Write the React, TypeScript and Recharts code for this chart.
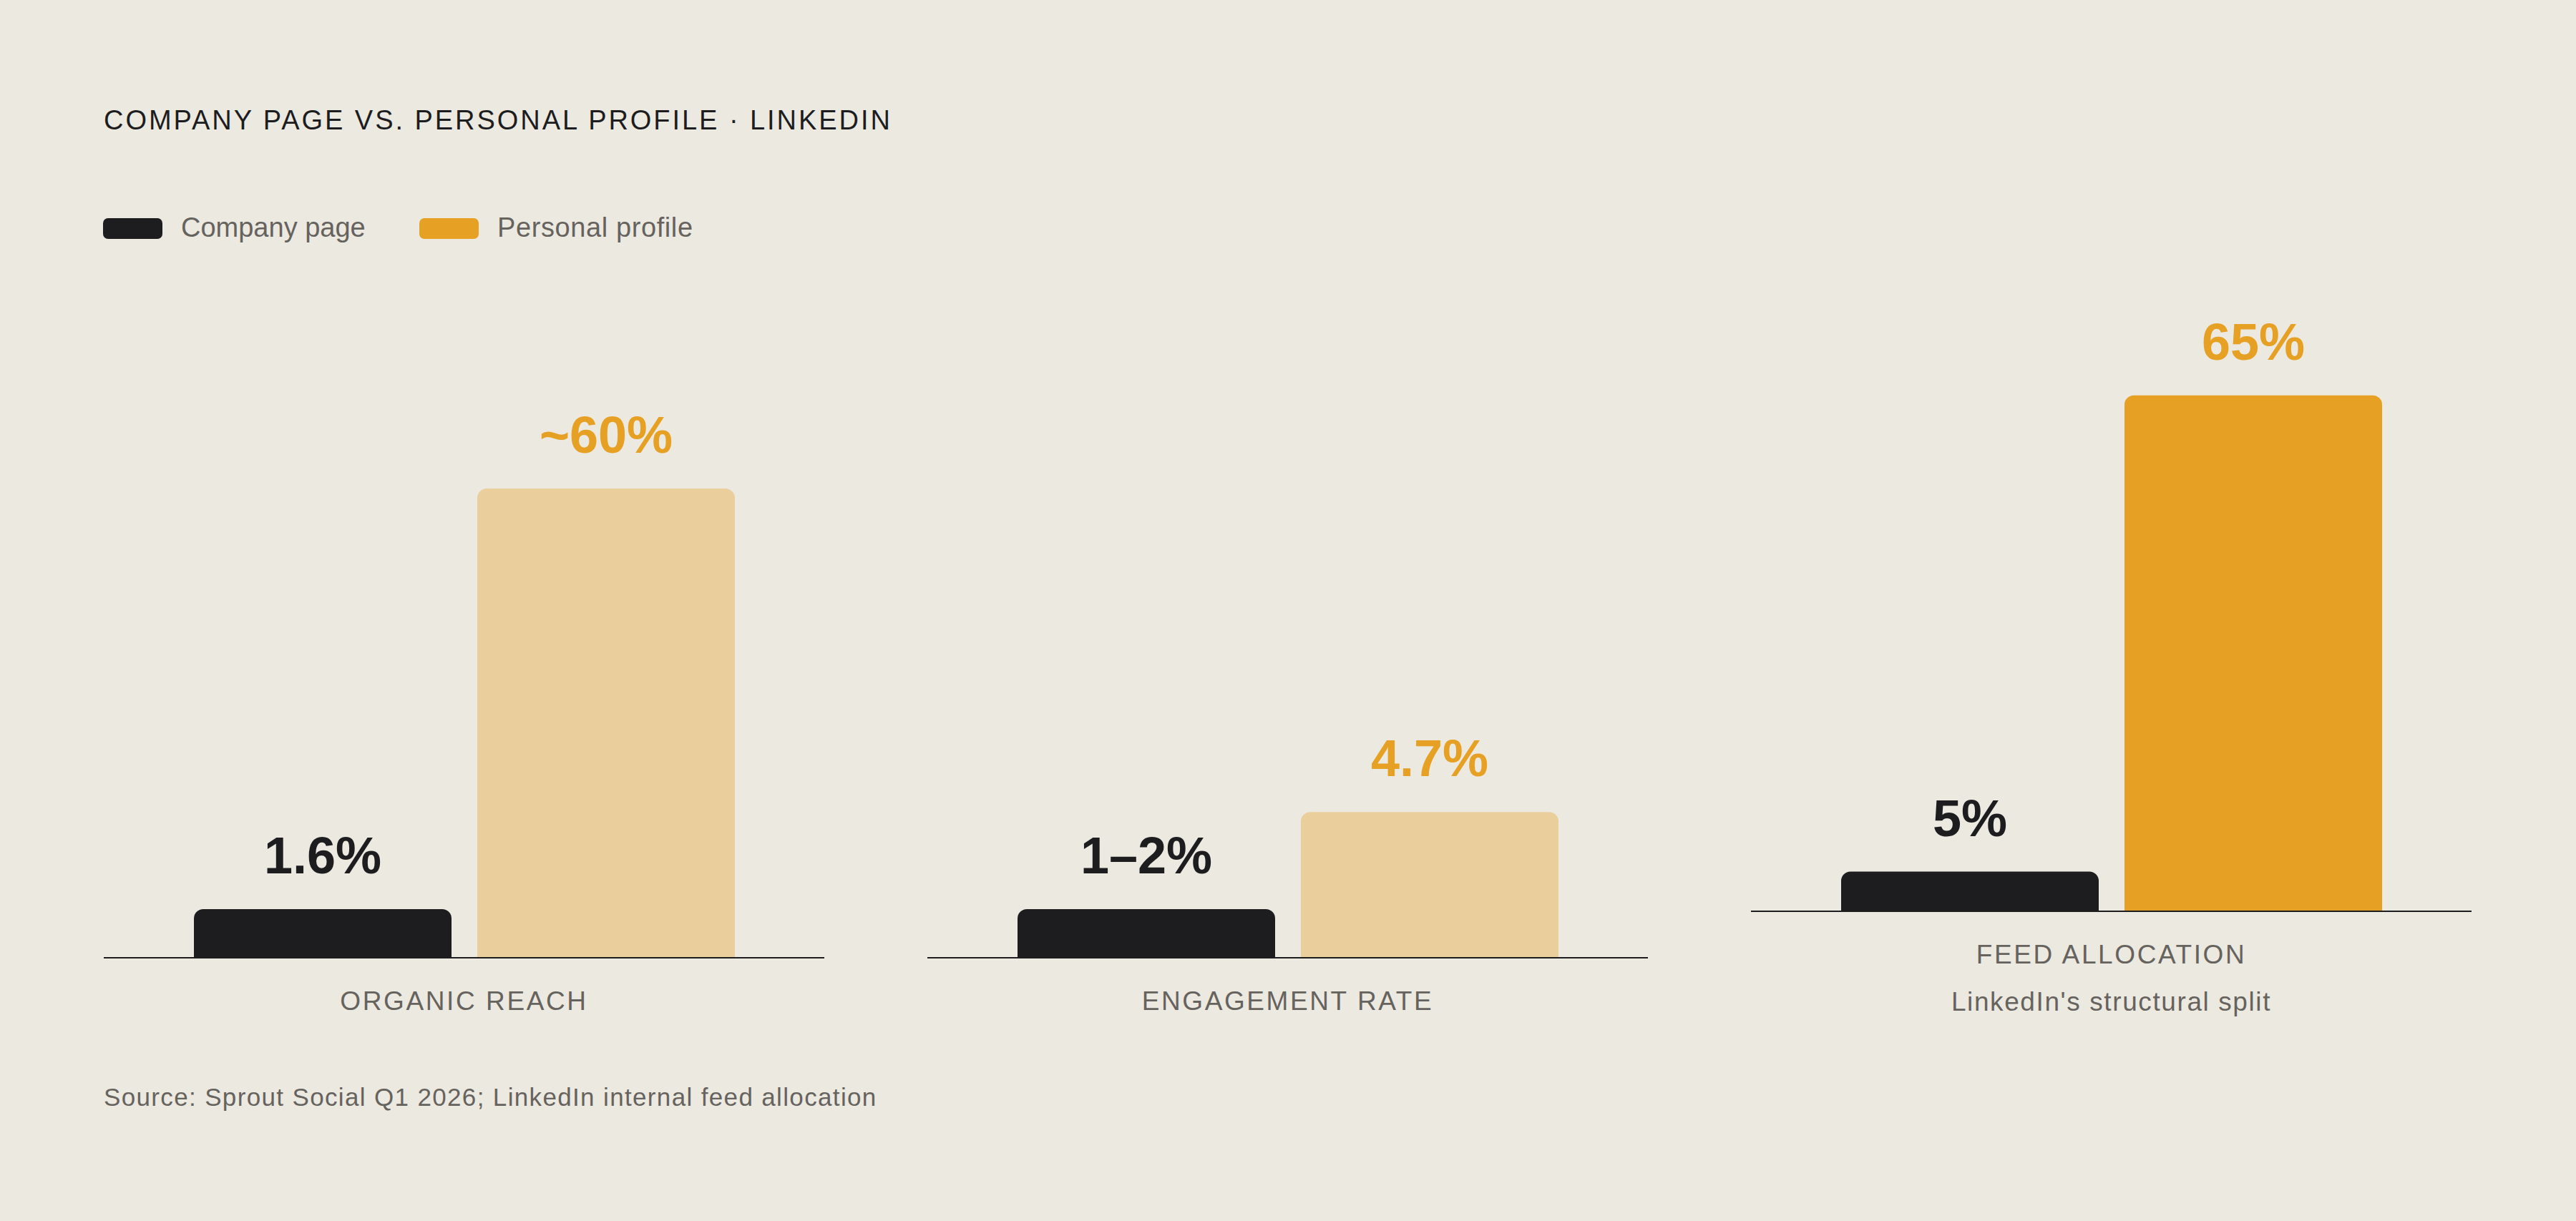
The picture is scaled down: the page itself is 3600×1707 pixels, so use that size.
import { BarChart, Bar, XAxis, YAxis, LabelList } from 'recharts';

// three metric panels, one category each
const metrics = ['ORGANIC REACH', 'ENGAGEMENT RATE', 'FEED ALLOCATION'];
const metricNotes = ['', '', "LinkedIn's structural split"];
const seriesNames = ['Company page', 'Personal profile'];
const companyValues = [1.6, 1.5, 5];
const personalValues = [60, 4.7, 65];
const companyLabels = ['1.6%', '1–2%', '5%'];
const personalLabels = ['~60%', '4.7%', '65%'];
const scaleMax = [80.5, 20.3, 79.3];

const FONT = '"Liberation Sans", Arial, sans-serif';
const BG = '#ECE9E1';
const INK = '#1D1D1F';
const AMBER = '#E6A023';
const SAND = '#EACF9D';
const GREY = '#66635E';

const panelLeft = [145, 1296, 2447];
const panelAxisY = [1339, 1339, 1274];
const personalFill = [SAND, SAND, AMBER];
const minBar = [68, 68, 0];
const PANEL_W = 1007;
const PLOT_H = 880;
const AXIS_H = 170;

function CategoryTick(props: any) {
    const { x, y, payload, note } = props;
    return (
        <g>
            <text x={x} y={y + 73} textAnchor="middle" fill={GREY} fontSize={37} letterSpacing={2.6} fontFamily={FONT}>
                {payload.value}
            </text>
            {note ? (
                <text x={x} y={y + 139} textAnchor="middle" fill={GREY} fontSize={37} letterSpacing={1.6} fontFamily={FONT}>
                    {note}
                </text>
            ) : null}
        </g>
    );
}

function Panel({ i }: { i: number }) {
    const data = [
        {
            metric: metrics[i],
            company: companyValues[i],
            personal: personalValues[i],
            companyLabel: companyLabels[i],
            personalLabel: personalLabels[i],
        },
    ];
    return (
        <div style={{ position: 'absolute', left: panelLeft[i], top: panelAxisY[i] - PLOT_H }}>
            <BarChart
                width={PANEL_W}
                height={PLOT_H + AXIS_H}
                data={data}
                margin={{ top: 0, right: 0, bottom: 0, left: 0 }}
                barSize={360}
                barGap={36}
            >
                <YAxis hide domain={[0, scaleMax[i]]} />
                <XAxis
                    dataKey="metric"
                    height={AXIS_H}
                    axisLine={{ stroke: INK, strokeWidth: 2 }}
                    tickLine={false}
                    tickSize={0}
                    tickMargin={0}
                    interval={0}
                    tick={(p: any) => <CategoryTick {...p} note={metricNotes[i]} />}
                />
                <Bar
                    dataKey="company"
                    name={seriesNames[0]}
                    fill={INK}
                    radius={[13, 13, 0, 0]}
                    minPointSize={minBar[i]}
                    isAnimationActive={false}
                >
                    <LabelList
                        dataKey="companyLabel"
                        position="top"
                        offset={50}
                        fill={INK}
                        fontSize={72}
                        fontWeight={700}
                        fontFamily={FONT}
                    />
                </Bar>
                <Bar
                    dataKey="personal"
                    name={seriesNames[1]}
                    fill={personalFill[i]}
                    radius={[13, 13, 0, 0]}
                    isAnimationActive={false}
                >
                    <LabelList
                        dataKey="personalLabel"
                        position="top"
                        offset={50}
                        fill={AMBER}
                        fontSize={72}
                        fontWeight={700}
                        fontFamily={FONT}
                    />
                </Bar>
            </BarChart>
        </div>
    );
}

export default function App() {
    return (
        <div
            style={{
                position: 'absolute',
                left: 0,
                top: 0,
                width: 3600,
                height: 1707,
                background: BG,
                fontFamily: FONT,
                overflow: 'hidden',
            }}
        >
            <div
                style={{
                    position: 'absolute',
                    left: 145,
                    top: 149,
                    fontSize: 38,
                    lineHeight: 1,
                    letterSpacing: 2.95,
                    color: INK,
                    whiteSpace: 'nowrap',
                }}
            >
                COMPANY PAGE VS. PERSONAL PROFILE · LINKEDIN
            </div>

            {/* legend */}
            <div style={{ position: 'absolute', left: 144, top: 305, width: 83, height: 29, borderRadius: 7, background: INK }} />
            <div style={{ position: 'absolute', left: 253, top: 299, fontSize: 38, lineHeight: 1, color: GREY, whiteSpace: 'nowrap' }}>
                {seriesNames[0]}
            </div>
            <div style={{ position: 'absolute', left: 586, top: 305, width: 83, height: 29, borderRadius: 7, background: AMBER }} />
            <div
                style={{
                    position: 'absolute',
                    left: 695,
                    top: 299,
                    fontSize: 38,
                    lineHeight: 1,
                    letterSpacing: 0.6,
                    color: GREY,
                    whiteSpace: 'nowrap',
                }}
            >
                {seriesNames[1]}
            </div>

            {metrics.map((_, i) => (
                <Panel key={i} i={i} />
            ))}

            <div
                style={{
                    position: 'absolute',
                    left: 145,
                    top: 1516,
                    fontSize: 35,
                    lineHeight: 1,
                    letterSpacing: 1.35,
                    color: GREY,
                    whiteSpace: 'nowrap',
                }}
            >
                Source: Sprout Social Q1 2026; LinkedIn internal feed allocation
            </div>
        </div>
    );
}
